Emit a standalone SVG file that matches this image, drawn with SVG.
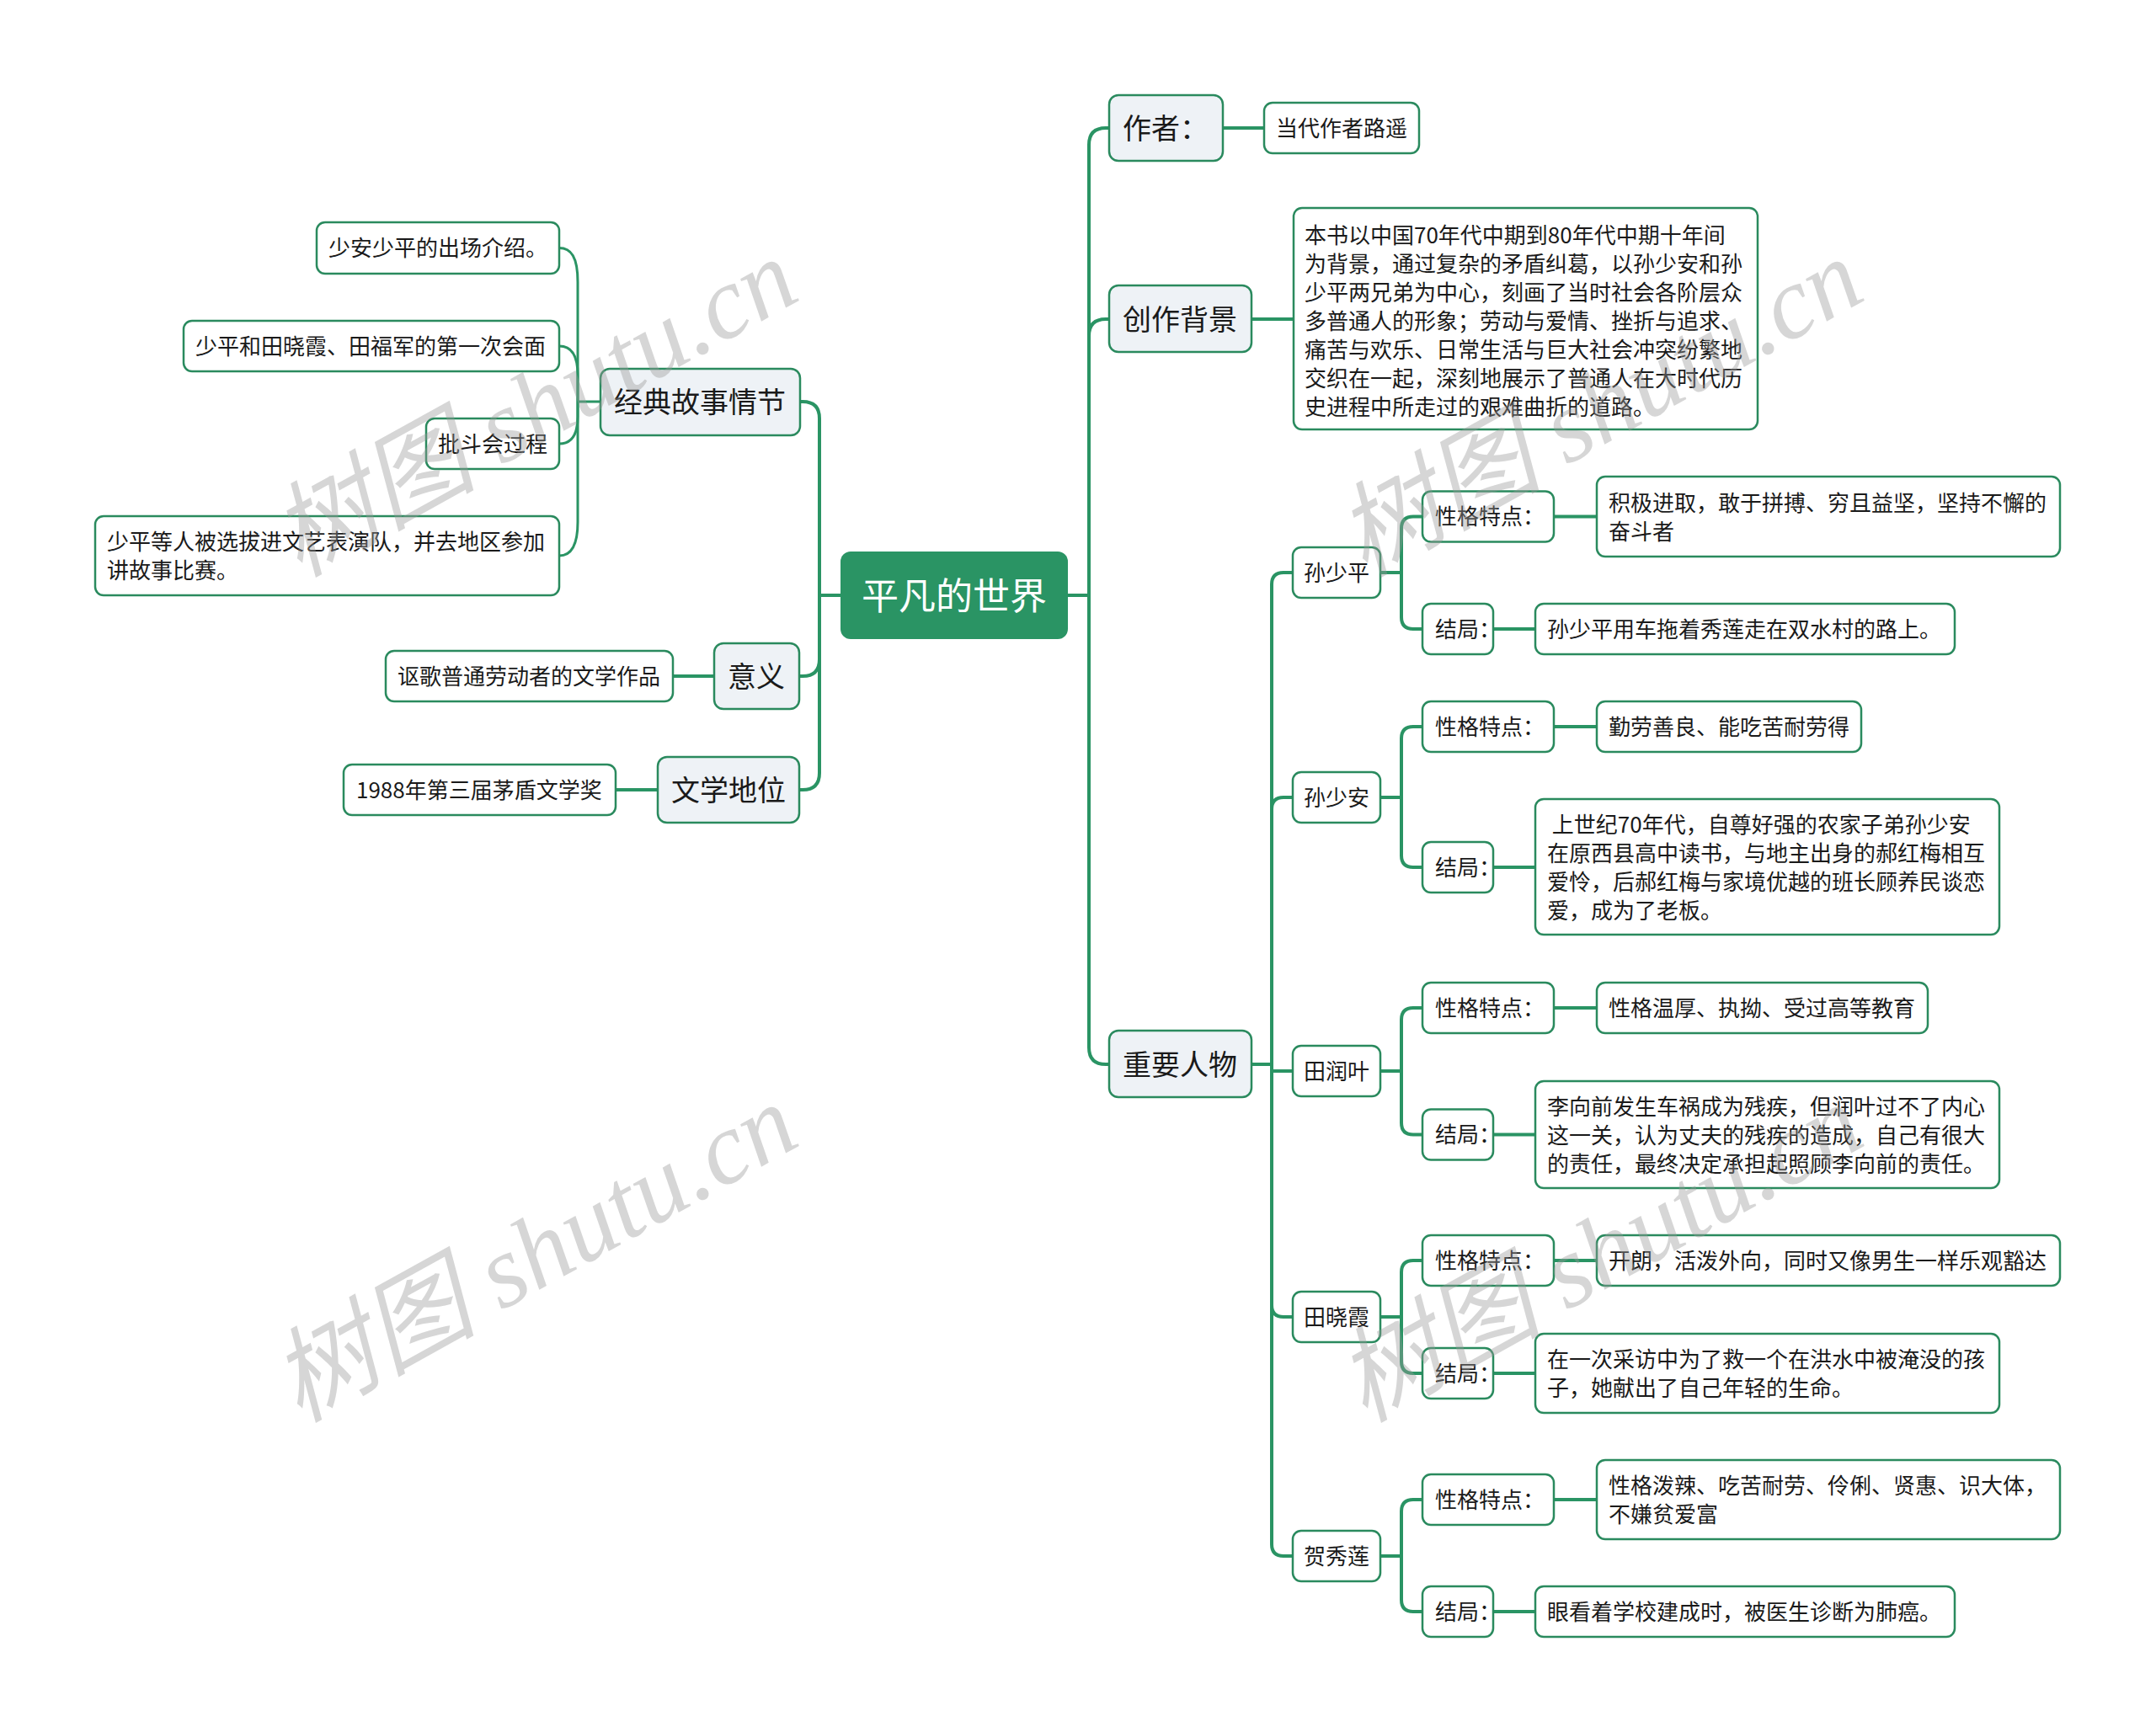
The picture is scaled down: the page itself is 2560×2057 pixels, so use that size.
<svg xmlns="http://www.w3.org/2000/svg" width="2560" height="2057" viewBox="0 0 2560 2057">
<style>
text{font-family:"Noto Sans CJK SC","Noto Sans",sans-serif;fill:#1a1a1a;dominant-baseline:central}
.t26,.t34{transform:translateY(-2px)}
.t26{font-size:26px}
.t34{font-size:34px}
.root rect{fill:#2a9464}
.root text{fill:#fff;font-size:44px;text-anchor:middle;transform:translateY(-2px)}
.main rect{fill:#eef2f6;stroke:#2a8a5e;stroke-width:2.5}
.sub rect{fill:#fff;stroke:#2a8a5e;stroke-width:2.5}
.ln path{fill:none;stroke:#2a9464;stroke-width:4;stroke-linejoin:round}
.ln path.thin{stroke-width:3}
.wm text{font-family:"Liberation Serif","Noto Sans CJK SC",serif;font-style:italic;font-size:122px;fill:#999;fill-opacity:.4;dominant-baseline:alphabetic}
</style>
<rect width="2560" height="2057" fill="#fff"/>
<g id="connectors" class="ln">
<path d="M1268,707 H1293"/>
<path d="M1293,707 V172 Q1293,152 1313,152 H1317"/>
<path d="M1293,707 V399 Q1293,379 1313,379 H1317"/>
<path d="M1293,707 V1244 Q1293,1264 1313,1264 H1317"/>
<path d="M1452,152 H1501"/>
<path d="M1486,379 H1536"/>
<path d="M1486,1264 H1510"/>
<path d="M1510,1264 V694 Q1510,680 1524,680 H1535"/>
<path d="M1510,1264 V961 Q1510,947 1524,947 H1535"/>
<path d="M1510,1264 V1272 H1535"/>
<path d="M1510,1264 V1550 Q1510,1564 1524,1564 H1535"/>
<path d="M1510,1264 V1834 Q1510,1848 1524,1848 H1535"/>
<path d="M1639,680 H1664 M1664,680 V627.5 Q1664,613.5 1678,613.5 H1689 M1664,680 V733 Q1664,747 1678,747 H1689"/>
<path d="M1639,947 H1664 M1664,947 V877 Q1664,863 1678,863 H1689 M1664,947 V1016 Q1664,1030 1678,1030 H1689"/>
<path d="M1639,1272 H1664 M1664,1272 V1211 Q1664,1197 1678,1197 H1689 M1664,1272 V1333.5 Q1664,1347.5 1678,1347.5 H1689"/>
<path d="M1639,1564 H1664 M1664,1564 V1511 Q1664,1497 1678,1497 H1689 M1664,1564 V1617 Q1664,1631 1678,1631 H1689"/>
<path d="M1639,1848 H1664 M1664,1848 V1795 Q1664,1781 1678,1781 H1689 M1664,1848 V1900 Q1664,1914 1678,1914 H1689"/>
<path d="M1845,613.5 H1896"/>
<path d="M1773,747 H1823"/>
<path d="M1845,863 H1896"/>
<path d="M1773,1030 H1823"/>
<path d="M1845,1197 H1896"/>
<path d="M1773,1347.5 H1823"/>
<path d="M1845,1497 H1896"/>
<path d="M1773,1631 H1823"/>
<path d="M1845,1781 H1896"/>
<path d="M1773,1914 H1823"/>
<path d="M998,707 H973"/>
<path d="M973,707 V497 Q973,477 953,477 H950"/>
<path d="M973,707 V783 Q973,803 953,803 H949"/>
<path d="M973,707 V918 Q973,938 953,938 H949"/>
<path d="M848,803 H799"/>
<path d="M781,938 H731"/>
<path class="thin" d="M713,477 H686"/>
<path class="thin" d="M686,477 V335 C686,305 678,294.5 664,294.5"/>
<path class="thin" d="M686,477 V445 C686,421 678,411 664,411"/>
<path class="thin" d="M686,477 V495 C686,518 678,527 664,527"/>
<path class="thin" d="M686,477 V620 C686,648 678,660 664,660"/>
</g>
<g id="root" class="root"><rect x="998" y="655" width="270" height="104" rx="12"/><text x="1133" y="707">平凡的世界</text></g>
<g id="n-author" class="main"><rect x="1317" y="113" width="135" height="78" rx="11"/><text class="t34" x="1333" y="152">作者：</text></g>
<g id="n-author-c" class="sub"><rect x="1501" y="122" width="184" height="60" rx="10"/><text class="t26" x="1515" y="152">当代作者路遥</text></g>
<g id="n-bg" class="main"><rect x="1317" y="339" width="169" height="79" rx="11"/><text class="t34" x="1333" y="379">创作背景</text></g>
<g id="n-bg-c" class="sub"><rect x="1536" y="247" width="551" height="263" rx="10"/><text class="t26" x="1549"><tspan x="1549" y="279">本书以中国70年代中期到80年代中期十年间</tspan><tspan x="1549" y="313">为背景，通过复杂的矛盾纠葛，以孙少安和孙</tspan><tspan x="1549" y="347">少平两兄弟为中心，刻画了当时社会各阶层众</tspan><tspan x="1549" y="381">多普通人的形象；劳动与爱情、挫折与追求、</tspan><tspan x="1549" y="415">痛苦与欢乐、日常生活与巨大社会冲突纷繁地</tspan><tspan x="1549" y="449">交织在一起，深刻地展示了普通人在大时代历</tspan><tspan x="1549" y="483">史进程中所走过的艰难曲折的道路。</tspan></text></g>
<g id="n-chars" class="main"><rect x="1317" y="1224" width="169" height="79" rx="11"/><text class="t34" x="1333" y="1264">重要人物</text></g>
<g id="c-ssp" class="sub"><rect x="1535" y="650" width="104" height="60" rx="10"/><text class="t26" x="1548" y="680">孙少平</text></g>
<g id="c-ssp-p" class="sub"><rect x="1689" y="583.5" width="156" height="60" rx="10"/><text class="t26" x="1704" y="613.5">性格特点：</text></g>
<g id="c-ssp-pt" class="sub"><rect x="1896" y="566" width="550" height="95" rx="10"/><text class="t26"><tspan x="1910" y="597">积极进取，敢于拼搏、穷且益坚，坚持不懈的</tspan><tspan x="1910" y="631">奋斗者</tspan></text></g>
<g id="c-ssp-j" class="sub"><rect x="1689" y="717" width="84" height="60" rx="10"/><text class="t26" x="1704" y="747">结局：</text></g>
<g id="c-ssp-jt" class="sub"><rect x="1823" y="717" width="498" height="60" rx="10"/><text class="t26" x="1837" y="747">孙少平用车拖着秀莲走在双水村的路上。</text></g>
<g id="c-ssa" class="sub"><rect x="1535" y="917" width="104" height="60" rx="10"/><text class="t26" x="1548" y="947">孙少安</text></g>
<g id="c-ssa-p" class="sub"><rect x="1689" y="833" width="156" height="60" rx="10"/><text class="t26" x="1704" y="863">性格特点：</text></g>
<g id="c-ssa-pt" class="sub"><rect x="1896" y="833" width="314" height="60" rx="10"/><text class="t26" x="1910" y="863">勤劳善良、能吃苦耐劳得</text></g>
<g id="c-ssa-j" class="sub"><rect x="1689" y="1000" width="84" height="60" rx="10"/><text class="t26" x="1704" y="1030">结局：</text></g>
<g id="c-ssa-jt" class="sub"><rect x="1823" y="949" width="551" height="161" rx="10"/><text class="t26" xml:space="preserve"><tspan x="1837" y="979"> 上世纪70年代，自尊好强的农家子弟孙少安</tspan><tspan x="1837" y="1013">在原西县高中读书，与地主出身的郝红梅相互</tspan><tspan x="1837" y="1047">爱怜，后郝红梅与家境优越的班长顾养民谈恋</tspan><tspan x="1837" y="1081">爱，成为了老板。</tspan></text></g>
<g id="c-trz" class="sub"><rect x="1535" y="1242" width="104" height="60" rx="10"/><text class="t26" x="1548" y="1272">田润叶</text></g>
<g id="c-trz-p" class="sub"><rect x="1689" y="1167" width="156" height="60" rx="10"/><text class="t26" x="1704" y="1197">性格特点：</text></g>
<g id="c-trz-pt" class="sub"><rect x="1896" y="1167" width="393" height="60" rx="10"/><text class="t26" x="1910" y="1197">性格温厚、执拗、受过高等教育</text></g>
<g id="c-trz-j" class="sub"><rect x="1689" y="1317.5" width="84" height="60" rx="10"/><text class="t26" x="1704" y="1347.5">结局：</text></g>
<g id="c-trz-jt" class="sub"><rect x="1823" y="1284" width="551" height="127" rx="10"/><text class="t26"><tspan x="1837" y="1314">李向前发生车祸成为残疾，但润叶过不了内心</tspan><tspan x="1837" y="1348">这一关，认为丈夫的残疾的造成，自己有很大</tspan><tspan x="1837" y="1382">的责任，最终决定承担起照顾李向前的责任。</tspan></text></g>
<g id="c-txx" class="sub"><rect x="1535" y="1534" width="104" height="60" rx="10"/><text class="t26" x="1548" y="1564">田晓霞</text></g>
<g id="c-txx-p" class="sub"><rect x="1689" y="1467" width="156" height="60" rx="10"/><text class="t26" x="1704" y="1497">性格特点：</text></g>
<g id="c-txx-pt" class="sub"><rect x="1896" y="1467" width="550" height="60" rx="10"/><text class="t26" x="1910" y="1497">开朗，活泼外向，同时又像男生一样乐观豁达</text></g>
<g id="c-txx-j" class="sub"><rect x="1689" y="1601" width="84" height="60" rx="10"/><text class="t26" x="1704" y="1631">结局：</text></g>
<g id="c-txx-jt" class="sub"><rect x="1823" y="1584" width="551" height="94" rx="10"/><text class="t26"><tspan x="1837" y="1614">在一次采访中为了救一个在洪水中被淹没的孩</tspan><tspan x="1837" y="1648">子，她献出了自己年轻的生命。</tspan></text></g>
<g id="c-hxl" class="sub"><rect x="1535" y="1818" width="104" height="60" rx="10"/><text class="t26" x="1548" y="1848">贺秀莲</text></g>
<g id="c-hxl-p" class="sub"><rect x="1689" y="1751" width="156" height="60" rx="10"/><text class="t26" x="1704" y="1781">性格特点：</text></g>
<g id="c-hxl-pt" class="sub"><rect x="1896" y="1734" width="550" height="94" rx="10"/><text class="t26"><tspan x="1910" y="1764">性格泼辣、吃苦耐劳、伶俐、贤惠、识大体，</tspan><tspan x="1910" y="1798">不嫌贫爱富</tspan></text></g>
<g id="c-hxl-j" class="sub"><rect x="1689" y="1884" width="84" height="60" rx="10"/><text class="t26" x="1704" y="1914">结局：</text></g>
<g id="c-hxl-jt" class="sub"><rect x="1823" y="1884" width="498" height="60" rx="10"/><text class="t26" x="1837" y="1914">眼看着学校建成时，被医生诊断为肺癌。</text></g>
<g id="n-plot" class="main"><rect x="713" y="438" width="237" height="79" rx="11"/><text class="t34" x="729" y="477">经典故事情节</text></g>
<g id="p1" class="sub"><rect x="376" y="264" width="288" height="61" rx="10"/><text class="t26" x="390" y="294.5">少安少平的出场介绍。</text></g>
<g id="p2" class="sub"><rect x="218" y="381" width="446" height="60" rx="10"/><text class="t26" x="232" y="411">少平和田晓霞、田福军的第一次会面</text></g>
<g id="p3" class="sub"><rect x="506" y="497" width="158" height="60" rx="10"/><text class="t26" x="520" y="527">批斗会过程</text></g>
<g id="p4" class="sub"><rect x="113" y="613" width="551" height="94" rx="10"/><text class="t26"><tspan x="127" y="643">少平等人被选拔进文艺表演队，并去地区参加</tspan><tspan x="127" y="677">讲故事比赛。</tspan></text></g>
<g id="n-meaning" class="main"><rect x="848" y="764" width="101" height="78" rx="11"/><text class="t34" x="864" y="803">意义</text></g>
<g id="n-meaning-c" class="sub"><rect x="458" y="773" width="341" height="60" rx="10"/><text class="t26" x="472" y="803">讴歌普通劳动者的文学作品</text></g>
<g id="n-status" class="main"><rect x="781" y="899" width="168" height="78" rx="11"/><text class="t34" x="797" y="938">文学地位</text></g>
<g id="n-status-c" class="sub"><rect x="408" y="908" width="323" height="60" rx="10"/><text class="t26" x="423" y="938">1988年第三届茅盾文学奖</text></g>
<g id="watermark" class="wm">
<text transform="translate(355,686) rotate(-29)">树图 shutu.cn</text>
<text transform="translate(355,1690) rotate(-29)">树图 shutu.cn</text>
<text transform="translate(1620,686) rotate(-29)">树图 shutu.cn</text>
<text transform="translate(1620,1690) rotate(-29)">树图 shutu.cn</text>
</g>
</svg>
